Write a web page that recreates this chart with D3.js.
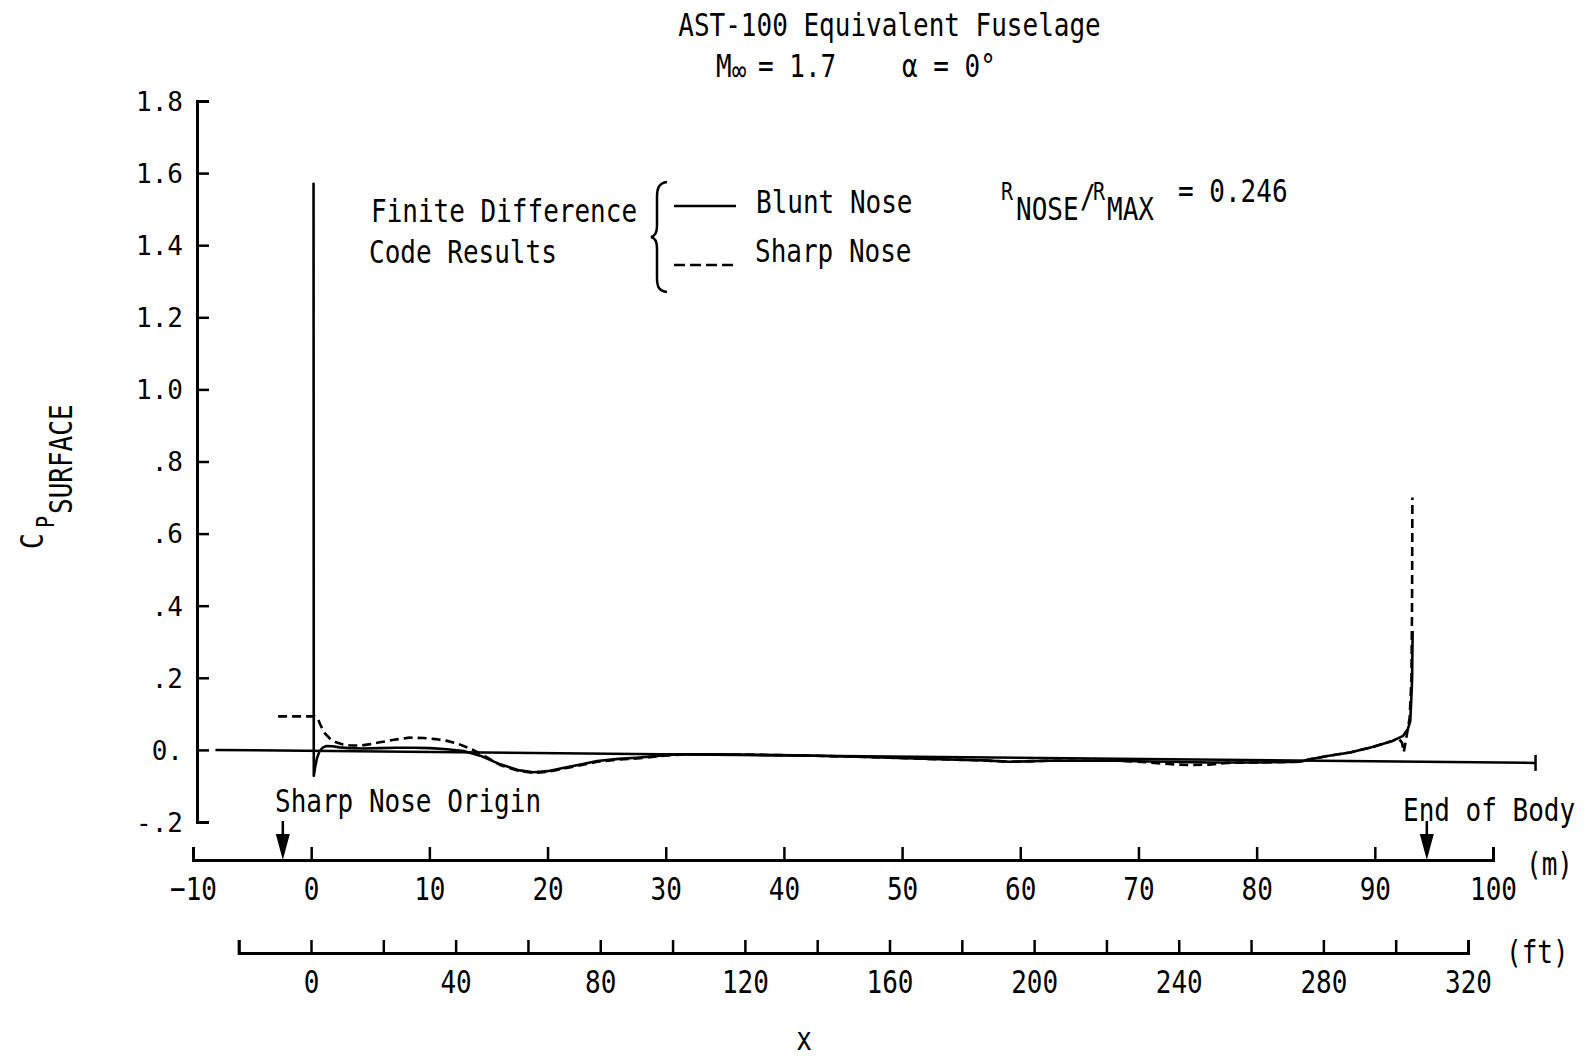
<!DOCTYPE html>
<html>
<head>
<meta charset="utf-8">
<script src="https://cdn.jsdelivr.net/npm/d3@7"></script>
<style>
  html, body { margin: 0; padding: 0; background: #fff; }
  svg { display: block; }
  text { font-family: "DejaVu Sans Mono", "Liberation Mono", monospace; fill: #000; }
</style>
</head>
<body>
<script>
// Surface pressure coefficient along the AST-100 equivalent fuselage, M = 1.7, alpha = 0.

// Blunt-nose solution: station x (m) and Cp
const bluntX = [0.20, 0.22, 0.35, 0.50, 0.70, 1.0, 1.3, 1.8, 2.4, 3.2, 4.4, 5.8, 7.2, 8.6, 10.1, 11.5, 12.9, 14.3,
  16.0, 17.5, 18.8, 20.0, 21.5, 23.0, 24.2, 26.0, 27.8, 29.5, 31.2, 34.3, 40.8, 46.2, 50.4, 53.2, 56.9, 59.1,
  62.5, 68.2, 71.0, 72.8, 74.4, 76.0, 77.5, 80.0, 83.7, 84.5, 86.0, 87.9, 89.8, 91.5, 92.4, 92.8, 93.0, 93.08, 93.15, 93.2];
const bluntCp = [1.573, -0.072, -0.045, -0.022, -0.004, 0.007, 0.011, 0.010, 0.007, 0.005, 0.004, 0.005, 0.006, 0.006, 0.005, 0.002, -0.003, -0.016,
  -0.040, -0.056, -0.062, -0.059, -0.049, -0.039, -0.031, -0.025, -0.021, -0.016, -0.012, -0.012, -0.015, -0.019, -0.023, -0.026, -0.029, -0.033,
  -0.030, -0.030, -0.032, -0.033, -0.034, -0.035, -0.035, -0.035, -0.033, -0.026, -0.017, -0.007, 0.008, 0.025, 0.039, 0.058, 0.080, 0.136, 0.190, 0.330];

// Sharp-nose solution: station x (m) and Cp
const sharpX = [-2.8, 0.30, 0.55, 0.75, 0.95, 1.2, 1.6, 2.1, 2.7, 3.4, 4.2, 5.0, 5.8, 7.0, 8.3, 9.5, 10.5, 11.5, 12.5, 13.5, 14.3,
  16.0, 17.5, 18.8, 20.0, 21.5, 23.0, 24.2, 26.0, 27.8, 29.5, 31.2, 34.3, 40.8, 46.2, 50.4, 53.2, 56.9, 59.1,
  62.5, 68.2, 71.0, 72.8, 74.4, 76.0, 77.5, 80.0, 83.7, 84.5, 86.0, 87.9, 89.8, 91.5, 92.0, 92.3, 92.45, 92.7, 92.95, 93.1, 93.15, 93.18];
const sharpCp = [0.093, 0.093, 0.088, 0.072, 0.058, 0.044, 0.031, 0.021, 0.015, 0.012, 0.012, 0.016, 0.021, 0.028, 0.034, 0.033, 0.030, 0.025, 0.016, 0.003, -0.010,
  -0.042, -0.058, -0.064, -0.061, -0.051, -0.041, -0.033, -0.027, -0.023, -0.017, -0.013, -0.012, -0.015, -0.019, -0.023, -0.026, -0.029, -0.033,
  -0.030, -0.030, -0.035, -0.040, -0.042, -0.041, -0.036, -0.035, -0.033, -0.026, -0.017, -0.007, 0.008, 0.025, 0.032, 0.020, -0.006, 0.040, 0.090, 0.200, 0.400, 0.700];

// Free-stream reference line (x in m, Cp)
const refX = [-8.1, 103.6];
const refCp = [0.0, -0.036];

// Axis ticks and labels
const cpTicks = [-0.2, 0.0, 0.2, 0.4, 0.6, 0.8, 1.0, 1.2, 1.4, 1.6, 1.8];
const cpTickLabels = ["-.2", "0.", ".2", ".4", ".6", ".8", "1.0", "1.2", "1.4", "1.6", "1.8"];
const meterTicks = [-10, 0, 10, 20, 30, 40, 50, 60, 70, 80, 90, 100];
const feetTicks = [-20, 0, 20, 40, 60, 80, 100, 120, 140, 160, 180, 200, 220, 240, 260, 280, 300, 320];
const feetLabels = [0, 40, 80, 120, 160, 200, 240, 280, 320];

// Marked stations (m)
const sharpNoseOrigin = -2.4;
const endOfBody = 94.4;
const noseRatio = "0.246";

const W = 1585, H = 1057;
const FS = 26;      // base font size
const SY = 1.25;    // vertical stretch of the typewriter lettering

const svg = d3.select("body").append("svg").attr("width", W).attr("height", H);
svg.append("rect").attr("width", W).attr("height", H).attr("fill", "#fff");

const x = d3.scaleLinear().domain([-10, 100]).range([193, 1493]);
const xFt = d3.scaleLinear().domain([0, 320]).range([311, 1468]);
const y = d3.scaleLinear().domain([-0.2, 1.8]).range([822, 101]);

function txt(px, py, str, opts = {}) {
  const t = svg.append("text")
    .attr("transform", `translate(${px},${py}) scale(1,${opts.sy ?? SY})`)
    .attr("font-size", opts.size ?? FS)
    .attr("text-anchor", opts.anchor ?? "start")
    .text(str);
  return t;
}

// ---- Title ----
txt(889.5, 36, "AST-100 Equivalent Fuselage", { anchor: "middle" });
const m1 = txt(716, 77, "M");
m1.append("tspan").attr("font-size", 24).attr("dy", 3).text("\u221E");
txt(758, 77, "= 1.7");
txt(902, 77, "\u03B1 = 0\u00B0");

// ---- Y axis ----
const yAxis = d3.axisLeft(y)
  .tickValues(cpTicks)
  .tickSizeInner(-12)
  .tickSizeOuter(-12)
  .tickPadding(14)
  .tickFormat((d, i) => cpTickLabels[i]);
const gy = svg.append("g").attr("transform", "translate(197,0)").call(yAxis);
gy.select(".domain").attr("stroke", "#000").attr("stroke-width", 3).attr("fill", "none");
gy.selectAll(".tick line").attr("stroke", "#000").attr("stroke-width", 2.5);
gy.selectAll(".tick text")
  .attr("font-family", "DejaVu Sans Mono, Liberation Mono, monospace")
  .attr("font-size", FS).attr("fill", "#000").attr("dy", "0.36em");

// Y axis title: C with subscript P, sub-subscript SURFACE (reads upward)
function vtxt(bx, by, str, size) {
  svg.append("text")
    .attr("transform", `translate(${bx},${by}) rotate(-90) scale(1,${SY})`)
    .attr("font-size", size)
    .text(str);
}
vtxt(43, 549, "C", FS);
vtxt(54, 528, "P", 20);
vtxt(72, 514, "SURFACE", FS);

// ---- Meter axis ----
const mAxis = d3.axisBottom(x)
  .tickValues(meterTicks)
  .tickSizeInner(-13)
  .tickSizeOuter(-13)
  .tickPadding(0)
  .tickFormat(d3.format("d"));
const gm = svg.append("g").attr("transform", "translate(0,860)").call(mAxis);
gm.select(".domain").attr("stroke", "#000").attr("stroke-width", 3).attr("fill", "none");
gm.selectAll(".tick line").attr("stroke", "#000").attr("stroke-width", 2.5);
gm.selectAll(".tick text")
  .attr("font-family", "DejaVu Sans Mono, Liberation Mono, monospace")
  .attr("font-size", FS).attr("fill", "#000")
  .attr("y", 40 / SY).attr("dy", 0)
  .attr("transform", `scale(1,${SY})`);
txt(1526, 875, "(m)");

// ---- Feet axis ----
const xFtAxisScale = d3.scaleLinear().domain([-20, 320]).range([xFt(-20), xFt(320)]);
const ftAxis = d3.axisBottom(xFtAxisScale)
  .tickValues(feetTicks)
  .tickSizeInner(-13)
  .tickSizeOuter(-13)
  .tickPadding(0)
  .tickFormat(d => feetLabels.includes(d) ? String(d) : "");
const gf = svg.append("g").attr("transform", "translate(0,953)").call(ftAxis);
gf.select(".domain").attr("stroke", "#000").attr("stroke-width", 3).attr("fill", "none");
gf.selectAll(".tick line").attr("stroke", "#000").attr("stroke-width", 2.5);
gf.selectAll(".tick text")
  .attr("font-family", "DejaVu Sans Mono, Liberation Mono, monospace")
  .attr("font-size", FS).attr("fill", "#000")
  .attr("y", 40 / SY).attr("dy", 0)
  .attr("transform", `scale(1,${SY})`);
txt(1506, 963, "(ft)");
txt(804, 1050, "x", { anchor: "middle" });

// ---- Free-stream reference line with end bar ----
const refPts = refX.map((v, i) => [v, refCp[i]]);
svg.append("path")
  .attr("d", d3.line().x(d => x(d[0])).y(d => y(d[1]))(refPts))
  .attr("fill", "none").attr("stroke", "#000").attr("stroke-width", 2.5);
const endPt = refPts[refPts.length - 1];
svg.append("line")
  .attr("x1", x(endPt[0])).attr("x2", x(endPt[0]))
  .attr("y1", y(endPt[1]) - 8).attr("y2", y(endPt[1]) + 8)
  .attr("stroke", "#000").attr("stroke-width", 2.5);

// ---- Curves ----
const line = d3.line().x(d => x(d[0])).y(d => y(d[1]));
const blunt = bluntX.map((v, i) => [v, bluntCp[i]]);
const sharp = sharpX.map((v, i) => [v, sharpCp[i]]);

svg.append("path").attr("d", line(blunt))
  .attr("fill", "none").attr("stroke", "#000").attr("stroke-width", 2.6)
  .attr("stroke-linejoin", "round");
svg.append("path").attr("d", line(sharp))
  .attr("fill", "none").attr("stroke", "#000").attr("stroke-width", 2.6)
  .attr("stroke-dasharray", "9,5");

// ---- Legend ----
txt(371, 222, "Finite Difference");
txt(369, 263, "Code Results");
svg.append("path")
  .attr("d", "M667,182 C659,183 657,188 657,197 L657,226 C657,232 655,236 651,237 C655,238 657,242 657,248 L657,278 C657,287 659,291 667,292")
  .attr("fill", "none").attr("stroke", "#000").attr("stroke-width", 2.5);
svg.append("line").attr("x1", 674).attr("x2", 736).attr("y1", 206).attr("y2", 206)
  .attr("stroke", "#000").attr("stroke-width", 2.6);
svg.append("line").attr("x1", 674).attr("x2", 736).attr("y1", 265).attr("y2", 265)
  .attr("stroke", "#000").attr("stroke-width", 2.6).attr("stroke-dasharray", "11,5");
txt(756, 213, "Blunt Nose");
txt(755, 262, "Sharp Nose");

// R_NOSE / R_MAX = ratio
txt(1001, 200, "R", { size: 20 });
txt(1016, 220, "NOSE");
txt(1080, 207, "/");
txt(1093, 200, "R", { size: 20 });
txt(1107, 220, "MAX");
txt(1178, 202, "= " + noseRatio);

// ---- Station markers ----
function marker(xm, label, lx, ly) {
  const px = x(xm);
  svg.append("line").attr("x1", px).attr("x2", px).attr("y1", 821).attr("y2", 840)
    .attr("stroke", "#000").attr("stroke-width", 2.5);
  svg.append("path")
    .attr("d", `M${px - 7},834 L${px + 7},834 L${px},860 Z`)
    .attr("fill", "#000");
  txt(lx, ly, label);
}
marker(sharpNoseOrigin, "Sharp Nose Origin", 275, 812);
marker(endOfBody, "End of Body", 1403, 821);
</script>
</body>
</html>
